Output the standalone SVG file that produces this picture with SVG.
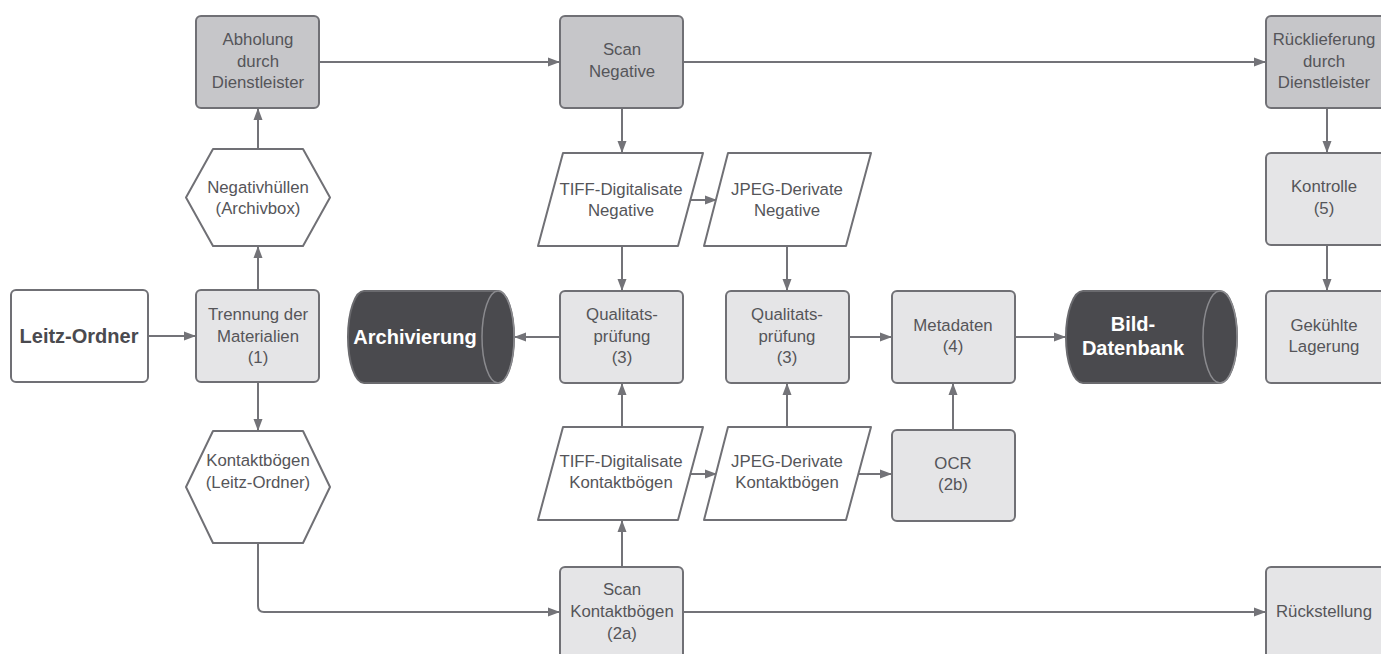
<svg xmlns="http://www.w3.org/2000/svg" width="1381" height="654" viewBox="0 0 1381 654">
<defs>
<style>
.box{fill:#e5e5e7;stroke:#707075;stroke-width:2}
.dark{fill:#c6c6c9;stroke:#707075;stroke-width:2}
.white{fill:#ffffff;stroke:#707075;stroke-width:2;stroke-linejoin:round}
.cyl{fill:#4a4a4e;stroke:#6a6a6e;stroke-width:2}
.cap{fill:#4a4a4e;stroke:#8a8a8e;stroke-width:1.5}
.t{font-family:"Liberation Sans",Arial,sans-serif;font-size:16.8px;fill:#555559;text-anchor:middle}
.b{font-family:"Liberation Sans",Arial,sans-serif;font-size:20px;font-weight:bold;text-anchor:middle}
.conn{fill:none;stroke:#737378;stroke-width:2;marker-end:url(#arr)}
</style>
<marker id="arr" markerUnits="userSpaceOnUse" markerWidth="12" markerHeight="10" refX="11" refY="5" orient="auto">
<path d="M0,0.5 L12,5 L0,9.5 z" fill="#737378"/>
</marker>
</defs>
<rect width="1381" height="654" fill="#ffffff"/>

<g id="connectors">
<path class="conn" d="M148,336 H195"/>
<path class="conn" d="M258,290 V247"/>
<path class="conn" d="M258,149 V109"/>
<path class="conn" d="M319,62 H559"/>
<path class="conn" d="M683,62 H1265"/>
<path class="conn" d="M622,108 V152"/>
<path class="conn" d="M691,200 H716"/>
<path class="conn" d="M622,246 V290"/>
<path class="conn" d="M787,246 V290"/>
<path class="conn" d="M560,337 H515"/>
<path class="conn" d="M849,337 H891"/>
<path class="conn" d="M1015,337 H1065"/>
<path class="conn" d="M258,382 V430"/>
<path class="conn" d="M258,543 V606 Q258,612 264,612 H559"/>
<path class="conn" d="M622,567 V521"/>
<path class="conn" d="M622,427 V384"/>
<path class="conn" d="M691,474 H716"/>
<path class="conn" d="M787,427 V384"/>
<path class="conn" d="M859,474 H891"/>
<path class="conn" d="M953,430 V384"/>
<path class="conn" d="M683,612 H1265"/>
<path class="conn" d="M1327,108 V152"/>
<path class="conn" d="M1327,245 V290"/>
</g>

<g id="abholung">
<rect class="dark" x="196" y="16" width="123" height="92" rx="5"/>
<text class="t" x="258" y="45">Abholung</text>
<text class="t" x="258" y="67">durch</text>
<text class="t" x="258" y="88">Dienstleister</text>
</g>
<g id="scan-negative">
<rect class="dark" x="560" y="16" width="123" height="92" rx="5"/>
<text class="t" x="622" y="55">Scan</text>
<text class="t" x="622" y="77">Negative</text>
</g>
<g id="ruecklieferung">
<rect class="dark" x="1266" y="16" width="123" height="92" rx="5"/>
<text class="t" x="1324" y="45">Rücklieferung</text>
<text class="t" x="1324" y="67">durch</text>
<text class="t" x="1324" y="88">Dienstleister</text>
</g>

<g id="negativhuellen">
<polygon class="white" points="186,197.5 213,149 303,149 330,197.5 303,246 213,246"/>
<text class="t" x="258" y="193">Negativhüllen</text>
<text class="t" x="258" y="214">(Archivbox)</text>
</g>
<g id="tiff-negative">
<polygon class="white" points="563,153 703,153 678,246 538,246"/>
<text class="t" x="621" y="195">TIFF-Digitalisate</text>
<text class="t" x="621" y="216">Negative</text>
</g>
<g id="jpeg-negative">
<polygon class="white" points="728,153 871,153 846,246 704,246"/>
<text class="t" x="787" y="195">JPEG-Derivate</text>
<text class="t" x="787" y="216">Negative</text>
</g>
<g id="kontrolle">
<rect class="box" x="1266" y="153" width="123" height="92" rx="5"/>
<text class="t" x="1324" y="192">Kontrolle</text>
<text class="t" x="1324" y="214">(5)</text>
</g>

<g id="leitz-ordner">
<rect class="white" x="11" y="290" width="137" height="92" rx="5"/>
<text class="b" x="79" y="343" fill="#4a4a4f">Leitz-Ordner</text>
</g>
<g id="trennung">
<rect class="box" x="196" y="290" width="123" height="92" rx="5"/>
<text class="t" x="258" y="320">Trennung der</text>
<text class="t" x="258" y="342">Materialien</text>
<text class="t" x="258" y="363">(1)</text>
</g>
<g id="archivierung">
<path class="cyl" d="M364,291 H498 A16,46 0 0 1 498,383 H364 A16,46 0 0 1 364,291 Z"/>
<ellipse class="cap" cx="498" cy="337" rx="16" ry="46"/>
<text class="b" x="415" y="344" fill="#ffffff">Archivierung</text>
</g>
<g id="qualitaet-1">
<rect class="box" x="560" y="291" width="123" height="92" rx="5"/>
<text class="t" x="622" y="320">Qualitats-</text>
<text class="t" x="622" y="342">prüfung</text>
<text class="t" x="622" y="363">(3)</text>
</g>
<g id="qualitaet-2">
<rect class="box" x="726" y="291" width="123" height="92" rx="5"/>
<text class="t" x="787" y="320">Qualitats-</text>
<text class="t" x="787" y="342">prüfung</text>
<text class="t" x="787" y="363">(3)</text>
</g>
<g id="metadaten">
<rect class="box" x="892" y="291" width="123" height="92" rx="5"/>
<text class="t" x="953" y="331">Metadaten</text>
<text class="t" x="953" y="352">(4)</text>
</g>
<g id="bild-datenbank">
<path class="cyl" d="M1083,291 H1220 A17,46 0 0 1 1220,383 H1083 A17,46 0 0 1 1083,291 Z"/>
<ellipse class="cap" cx="1220" cy="337" rx="17" ry="46"/>
<text class="b" x="1133" y="331" fill="#ffffff">Bild-</text>
<text class="b" x="1133" y="355" fill="#ffffff">Datenbank</text>
</g>
<g id="gekuehlte-lagerung">
<rect class="box" x="1266" y="291" width="123" height="92" rx="5"/>
<text class="t" x="1324" y="331">Gekühlte</text>
<text class="t" x="1324" y="352">Lagerung</text>
</g>

<g id="kontaktboegen">
<polygon class="white" points="186,487 213,431 303,431 330,487 303,543 213,543"/>
<text class="t" x="258" y="466">Kontaktbögen</text>
<text class="t" x="258" y="488">(Leitz-Ordner)</text>
</g>
<g id="tiff-kontakt">
<polygon class="white" points="563,427 703,427 678,520 538,520"/>
<text class="t" x="621" y="467">TIFF-Digitalisate</text>
<text class="t" x="621" y="488">Kontaktbögen</text>
</g>
<g id="jpeg-kontakt">
<polygon class="white" points="728,427 871,427 846,520 704,520"/>
<text class="t" x="787" y="467">JPEG-Derivate</text>
<text class="t" x="787" y="488">Kontaktbögen</text>
</g>
<g id="ocr">
<rect class="box" x="892" y="430" width="123" height="91" rx="5"/>
<text class="t" x="953" y="469">OCR</text>
<text class="t" x="953" y="490">(2b)</text>
</g>

<g id="scan-kontakt">
<rect class="box" x="560" y="567" width="123" height="92" rx="5"/>
<text class="t" x="622" y="595">Scan</text>
<text class="t" x="622" y="617">Kontaktbögen</text>
<text class="t" x="622" y="639">(2a)</text>
</g>
<g id="rueckstellung">
<rect class="box" x="1266" y="567" width="123" height="92" rx="5"/>
<text class="t" x="1324" y="617">Rückstellung</text>
</g>
</svg>
